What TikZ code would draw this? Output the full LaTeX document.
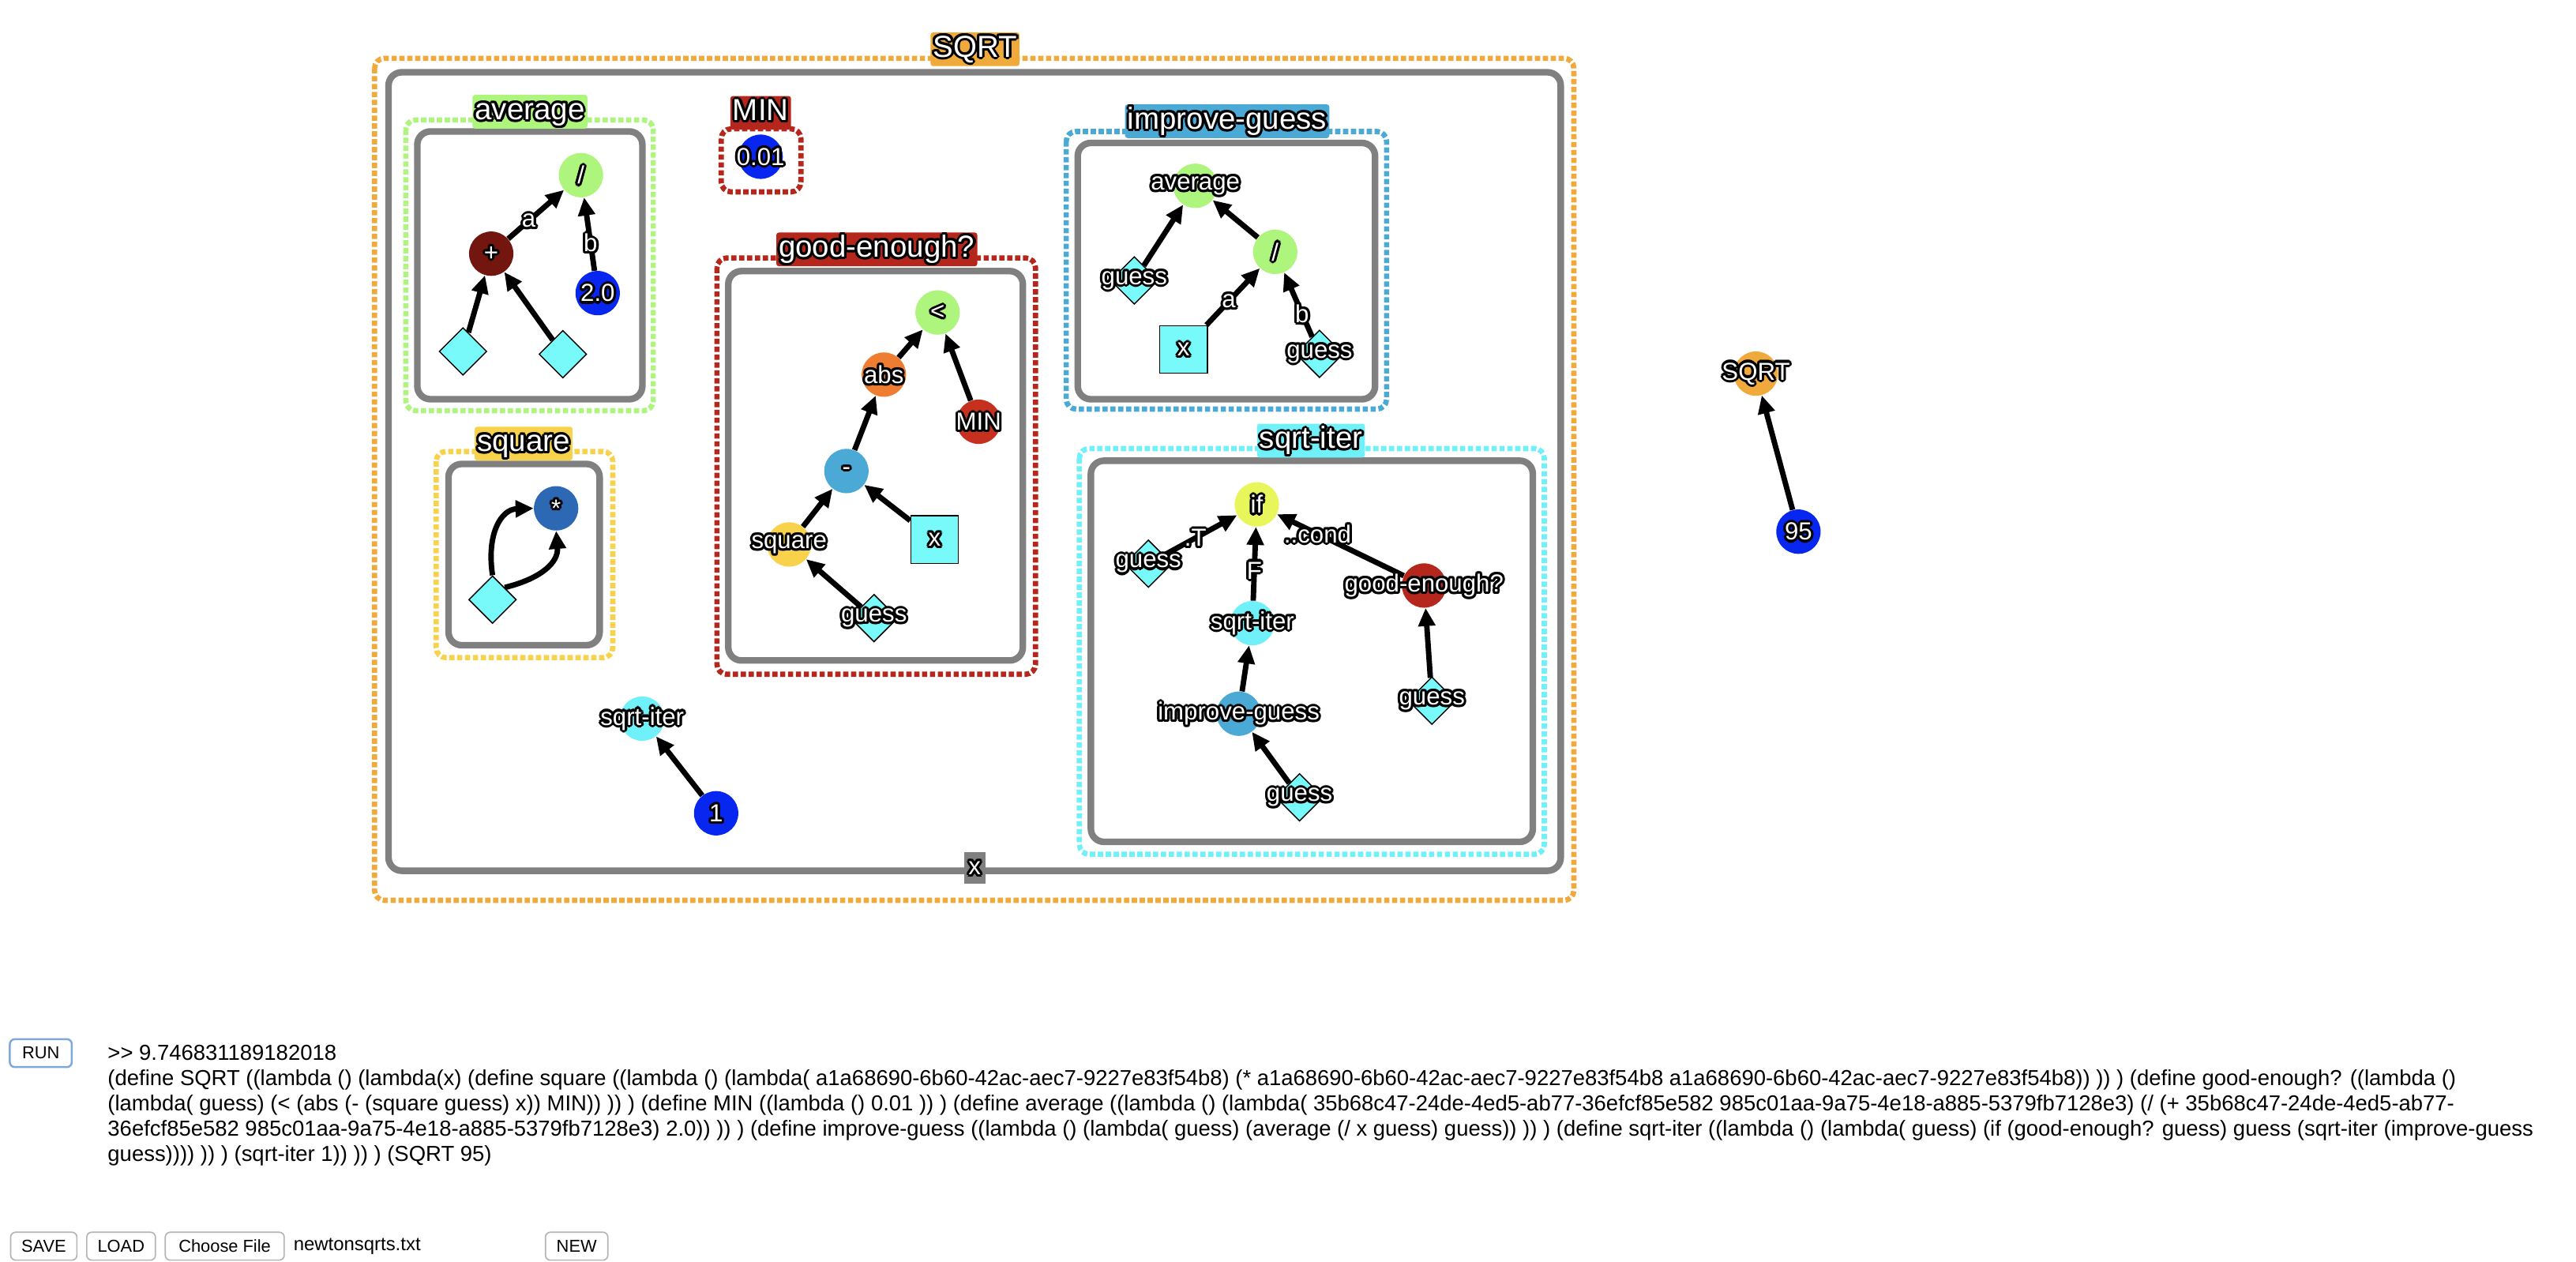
\documentclass[tikz,border=0pt]{standalone}
\usepackage{fontspec}
\setmainfont{Liberation Sans}
\usetikzlibrary{arrows.meta,shapes.geometric}
\pgfdeclarelayer{bg}
\pgfsetlayers{bg,main}

\definecolor{sqrtorange}{HTML}{F0AA3C}
\definecolor{avggreen}{HTML}{ADF57C}
\definecolor{sqyellow}{HTML}{F7D24A}
\definecolor{goodred}{HTML}{B5261C}
\definecolor{impblue}{HTML}{4BA9D6}
\definecolor{itercyan}{HTML}{70F0F8}
\definecolor{plusred}{HTML}{741610}
\definecolor{numblue}{HTML}{0727F0}
\definecolor{absorange}{HTML}{EE7C31}
\definecolor{mulblue}{HTML}{2C68B3}
\definecolor{ifyellow}{HTML}{E8F65B}
\definecolor{minred}{HTML}{C5301F}
\definecolor{incyan}{HTML}{78FAFA}
\definecolor{boxgray}{HTML}{808080}
\definecolor{btnline}{HTML}{B4B4B4}
\definecolor{runline}{HTML}{7FA8DC}

% white text with a black rim
\newcommand\outl[1]{%
  \leavevmode\rlap{\color{black}%
    \foreach \ang in {0,30,...,330}{%
      \pgfmathsetmacro\ox{1.5*cos(\ang)}%
      \pgfmathsetmacro\oy{1.5*sin(\ang)}%
      \rlap{\kern\ox pt\raise\oy pt\hbox{#1}}}}%
  \textcolor{white}{#1}}

\begin{document}
\begin{tikzpicture}[x=1pt,y=-1pt,
    op/.style={circle,minimum size=27pt,inner sep=0pt},
    inp/.style={diamond,draw=black,line width=0.7pt,fill=incyan,minimum size=29pt,inner sep=0pt},
    var/.style={rectangle,draw=black,line width=0.7pt,fill=incyan,minimum size=29pt,inner sep=0pt},
    lbl/.style={font=\fontsize{15}{15}\selectfont,inner sep=0pt},
    ttl/.style={font=\fontsize{18.5}{18.5}\selectfont,inner xsep=1.5pt,inner ysep=1pt,text height=14pt,text depth=4.5pt,rounded corners=1.5pt},
    dotbox/.style={line width=3.2pt,dash pattern=on 3.2pt off 1.6pt,rounded corners=6pt},
    graybox/.style={draw=boxgray,line width=4pt,rounded corners=8pt},
    arr/.style={line width=3.3pt,-{Triangle[length=11pt,width=10pt]}},
    btn/.style={draw=btnline,line width=0.8pt,fill=white,rounded corners=3pt,minimum height=17pt,inner sep=0pt,font=\fontsize{10.5}{10.5}\selectfont},
    code/.style={anchor=base west,inner sep=0pt,font=\fontsize{13.2}{13.2}\selectfont}]
  \useasboundingbox (0,0) rectangle (1568,768.1);

  % frames
  \draw[dotbox,draw=sqrtorange] (228,35.5) rectangle (958,548);
  \draw[graybox] (236.5,44) rectangle (950,530);
  \draw[dotbox,draw=avggreen] (247,73) rectangle (397.6,250);
  \draw[graybox] (254,80) rectangle (391,243);
  \draw[dotbox,draw=goodred] (439,78.4) rectangle (487.5,116.8);
  \draw[dotbox,draw=goodred] (436.4,157) rectangle (630.3,410.4);
  \draw[graybox] (443.3,165) rectangle (622.6,402);
  \draw[dotbox,draw=impblue] (649,80) rectangle (844,249);
  \draw[graybox] (656,87) rectangle (837,243);
  \draw[dotbox,draw=sqyellow] (265.5,274.8) rectangle (373,400.3);
  \draw[graybox] (273,282.4) rectangle (365,392.7);
  \draw[dotbox,draw=itercyan] (657,273) rectangle (940,520);
  \draw[graybox] (664,280.4) rectangle (933,512.4);

  % titles
  \node[ttl,fill=sqrtorange] (tsqrt) at (593.5,30) {\outl{SQRT}};
  \node[ttl,fill=avggreen] (tavg) at (322.6,68) {\outl{average}};
  \node[ttl,fill=goodred] (tmin) at (463,68.7) {\outl{MIN}};
  \node[ttl,fill=goodred] (tgood) at (533.7,151.8) {\outl{good-enough?}};
  \node[ttl,fill=impblue] (timp) at (747,73.8) {\outl{improve-guess}};
  \node[ttl,fill=sqyellow] (tsq) at (318.7,270) {\outl{square}};
  \node[ttl,fill=itercyan] (titer) at (798,268.2) {\outl{sqrt-iter}};
  \node[lbl,fill=boxgray,minimum width=13pt,minimum height=19.5pt] (tx) at (593.3,528.3) {\outl{x}};

  % average
  \node[op,fill=avggreen,label={[lbl]center:\outl{/}}] (avgdiv) at (353.6,106.6) {};
  \node[op,fill=plusred,label={[lbl]center:\outl{+}}] (avgplus) at (299,154.4) {};
  \node[op,fill=numblue,label={[lbl]center:\outl{2.0}}] (avgtwo) at (363.8,178.4) {};
  \node[inp] (avgina) at (281.8,213.9) {};
  \node[inp] (avginb) at (342.6,215.6) {};

  % MIN
  \node[op,fill=numblue,label={[lbl]center:\outl{0.01}}] (minval) at (463,95.4) {};

  % good-enough?
  \node[op,fill=avggreen,label={[lbl]center:\outl{<}}] (gelt) at (570.7,190.2) {};
  \node[op,fill=absorange,label={[lbl]center:\outl{abs}}] (geabs) at (538,228) {};
  \node[op,fill=minred,label={[lbl]center:\outl{MIN}}] (gemin) at (595.7,256.7) {};
  \node[op,fill=impblue,label={[lbl]center:\outl{-}}] (gesub) at (515.2,286.7) {};
  \node[op,fill=sqyellow,label={[lbl]center:\outl{square}}] (gesq) at (480.3,331.4) {};
  \node[var,label={[lbl]center:\outl{x}}] (gex) at (568.9,328.4) {};
  \node[inp,label={[lbl]center:\outl{guess}}] (geguess) at (532,376.2) {};

  % improve-guess
  \node[op,fill=avggreen,label={[lbl]center:\outl{average}}] (igavg) at (727.6,113.1) {};
  \node[op,fill=avggreen,label={[lbl]center:\outl{/}}] (igdiv) at (776.2,153.3) {};
  \node[inp,label={[lbl]center:\outl{guess}}] (igguess) at (690.4,170.7) {};
  \node[var,label={[lbl]center:\outl{x}}] (igx) at (720.4,212.7) {};
  \node[inp,label={[lbl]center:\outl{guess}}] (igguessb) at (803.2,215.4) {};

  % square
  \node[op,fill=mulblue,label={[lbl]center:\outl{*}}] (sqmul) at (338.5,309.4) {};
  \node[inp] (sqin) at (299.8,365) {};

  % sqrt-iter
  \node[op,fill=ifyellow,label={[lbl]center:\outl{if}}] (siif) at (765,307) {};
  \node[inp,label={[lbl]center:\outl{guess}}] (siguess) at (699,343.1) {};
  \node[op,fill=goodred,label={[lbl]center:\outl{good-enough?}}] (sigood) at (866.8,356.4) {};
  \node[op,fill=itercyan,label={[lbl]center:\outl{sqrt-iter}}] (siiter) at (762.3,379.3) {};
  \node[op,fill=impblue,label={[lbl]center:\outl{improve-guess}}] (siimp) at (754,434.4) {};
  \node[inp,label={[lbl]center:\outl{guess}}] (siguessb) at (791,485.3) {};
  \node[inp,label={[lbl]center:\outl{guess}}] (siguessc) at (871.6,426.5) {};

  % body of SQRT and the call
  \node[op,fill=itercyan,label={[lbl]center:\outl{sqrt-iter}}] (calliter) at (390.9,437.4) {};
  \node[op,fill=numblue,label={[lbl]center:\outl{1}}] (callone) at (435.9,495) {};
  \node[op,fill=sqrtorange,label={[lbl]center:\outl{SQRT}}] (sqrtcall) at (1068.8,227.4) {};
  \node[op,fill=numblue,label={[lbl]center:\outl{95}}] (arg95) at (1094.7,323.6) {};

  \begin{pgfonlayer}{bg}
    \draw[arr] (avgplus) -- node[lbl,pos=.37] {\outl{a}} (avgdiv);
    \draw[arr] (avgtwo) -- node[lbl,pos=.38] {\outl{b}} (avgdiv);
    \draw[arr] (avgina) -- (avgplus);
    \draw[arr] (avginb) -- (avgplus);
    \draw[arr] (geabs) -- (gelt);
    \draw[arr] (gemin) -- (gelt);
    \draw[arr] (gesub) -- (geabs);
    \draw[arr] (gesq) -- (gesub);
    \draw[arr] (gex) -- (gesub);
    \draw[arr] (geguess) -- (gesq);
    \draw[arr] (igguess) -- (igavg);
    \draw[arr] (igdiv) -- (igavg);
    \draw[arr] (igx) -- node[lbl,pos=.42] {\outl{a}} (igdiv);
    \draw[arr] (igguessb) -- node[lbl,pos=.36] {\outl{b}} (igdiv);
    \draw[arr] (sqin.north) .. controls (296,325) and (305,310) .. (sqmul.west);
    \draw[arr] (sqin.north east) .. controls (330,352) and (340,342) .. (sqmul.south);
    \draw[arr] (siguess) -- node[lbl,pos=.43] {\outl{.T}} (siif);
    \draw[arr] (siiter) -- node[lbl,pos=.41] {\outl{F}} (siif);
    \draw[arr] (sigood) -- node[lbl,pos=.68] {\outl{..cond}} (siif);
    \draw[arr] (siimp) -- (siiter);
    \draw[arr] (siguessb) -- (siimp);
    \draw[arr] (siguessc) -- (sigood);
    \draw[arr] (callone) -- (calliter);
    \draw[arr] (arg95) -- (sqrtcall);
  \end{pgfonlayer}

  % controls and output
  \node[btn,draw=runline,line width=1.2pt,minimum width=37.7pt] (run) at (24.85,641) {RUN};
  \node[code] (out1) at (65.4,645.4) {>\kern0pt> 9.746831189182018};
  \node[code] (out2) at (65.4,660.7) {(define SQRT ((lambda () (lambda(x) (define square ((lambda () (lambda( a1a68690-6b60-42ac-aec7-9227e83f54b8) (* a1a68690-6b60-42ac-aec7-9227e83f54b8 a1a68690-6b60-42ac-aec7-9227e83f54b8)) )) ) (define good-enough? ((lambda ()};
  \node[code] (out3) at (65.4,676.1) {(lambda( guess) (< (abs (- (square guess) x)) MIN)) )) ) (define MIN ((lambda () 0.01 )) ) (define average ((lambda () (lambda( 35b68c47-24de-4ed5-ab77-36efcf85e582 985c01aa-9a75-4e18-a885-5379fb7128e3) (/ (+ 35b68c47-24de-4ed5-ab77-};
  \node[code] (out4) at (65.4,691.4) {36efcf85e582 985c01aa-9a75-4e18-a885-5379fb7128e3) 2.0)) )) ) (define improve-guess ((lambda () (lambda( guess) (average (/ x guess) guess)) )) ) (define sqrt-iter ((lambda () (lambda( guess) (if (good-enough? guess) guess (sqrt-iter (improve-guess};
  \node[code] (out5) at (65.4,706.8) {guess)))) )) ) (sqrt-iter 1)) )) ) (SQRT 95)};
  \node[btn,minimum width=40.3pt] (save) at (26.65,758.5) {SAVE};
  \node[btn,minimum width=41.8pt] (load) at (73.7,758.5) {LOAD};
  \node[btn,minimum width=72.4pt] (choose) at (136.8,758.5) {Choose File};
  \node[anchor=west,inner sep=0pt,font=\fontsize{11.5}{11.5}\selectfont] (fname) at (178.5,758.5) {newtonsqrts.txt};
  \node[btn,minimum width=38pt] (new) at (351,758.5) {NEW};
\end{tikzpicture}
\end{document}
